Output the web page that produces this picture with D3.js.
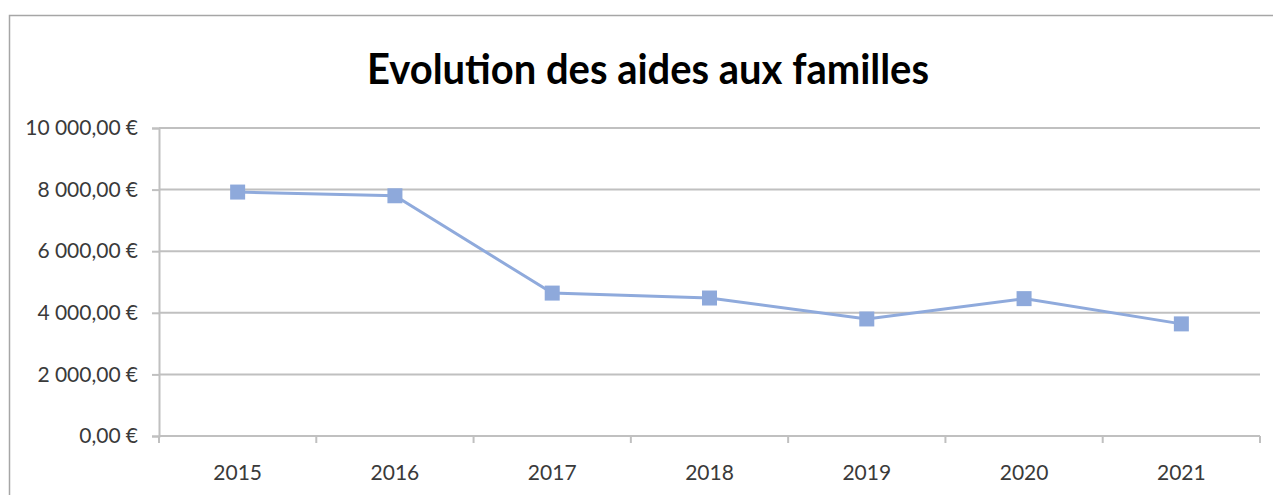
<!DOCTYPE html>
<html>
<head>
<meta charset="utf-8">
<script src="https://cdn.jsdelivr.net/npm/d3@7"></script>
<style>
  body { margin: 0; background: #fff; }
  text { font-family: Lato, "Open Sans", sans-serif; fill: #404040; }
</style>
</head>
<body>
<svg id="chart" width="1273" height="495"></svg>
<script>
// données
var annees = ["2015", "2016", "2017", "2018", "2019", "2020", "2021"];
var aides = [7920, 7800, 4640, 4480, 3800, 4460, 3640];
var graduations = [0, 2000, 4000, 6000, 8000, 10000];

var svg = d3.select("#chart"),
    width = +svg.attr("width"),
    height = +svg.attr("height");

var margin = {top: 128, right: 13, bottom: 59, left: 159};

// format monétaire français
var fr = d3.formatLocale({
  decimal: ",",
  thousands: "\u202F",
  grouping: [3],
  currency: ["", "\u202F€"]
});
var fmt = fr.format("$,.2f");

var x = d3.scaleBand()
  .domain(annees)
  .range([margin.left, width - margin.right])
  .padding(0);

var y = d3.scaleLinear()
  .domain([0, 10000])
  .range([height - margin.bottom, margin.top]);

// cadre du graphique
svg.append("path")
  .attr("d", "M9.5," + height + "V15.5H" + width)
  .attr("fill", "none")
  .attr("stroke", "#a6a6a6")
  .attr("stroke-width", 1.5);

// titre
svg.append("text")
  .attr("x", 648)
  .attr("y", 84)
  .attr("text-anchor", "middle")
  .style("font-weight", "bold")
  .style("font-size", "42px")
  .style("fill", "#000")
  .attr("textLength", 562)
  .attr("lengthAdjust", "spacingAndGlyphs")
  .text("Evolution des aides aux familles");

// axe y + grille
var yAxis = svg.append("g")
  .attr("transform", "translate(" + margin.left + ",0)")
  .call(d3.axisLeft(y).tickValues(graduations).tickFormat(fmt).tickSize(7).tickPadding(14));

yAxis.select(".domain").attr("stroke", "#c0c0c0").attr("stroke-width", 2);
yAxis.selectAll(".tick line").attr("stroke", "#c0c0c0").attr("stroke-width", 2);
yAxis.selectAll(".tick text")
  .style("font-size", "21px")
  .style("fill", "#3a3a3a")
  .style("font-family", "Lato, sans-serif");

svg.append("g")
  .selectAll("line")
  .data(graduations.filter(d => d > 0))
  .enter()
  .append("line")
    .attr("x1", margin.left)
    .attr("x2", width - margin.right)
    .attr("y1", d => y(d))
    .attr("y2", d => y(d))
    .attr("stroke", "#c0c0c0")
    .attr("stroke-width", 2);

// axe x : graduations entre les catégories
var xAxis = svg.append("g")
  .attr("transform", "translate(0," + y(0) + ")");

xAxis.append("line")
  .attr("x1", margin.left)
  .attr("x2", width - margin.right)
  .attr("stroke", "#c0c0c0")
  .attr("stroke-width", 2);

var bornes = annees.map(d => x(d)).concat([x(annees[annees.length - 1]) + x.bandwidth()]);
xAxis.selectAll(".tk")
  .data(bornes)
  .enter()
  .append("line")
    .attr("x1", d => d)
    .attr("x2", d => d)
    .attr("y1", 0)
    .attr("y2", 7)
    .attr("stroke", "#c0c0c0")
    .attr("stroke-width", 2);

xAxis.selectAll(".lbl")
  .data(annees)
  .enter()
  .append("text")
    .attr("x", d => x(d) + x.bandwidth() / 2)
    .attr("y", 44)
    .attr("text-anchor", "middle")
    .style("font-size", "21px")
    .style("fill", "#3a3a3a")
    .text(d => d);

// courbe
var ligne = d3.line()
  .x((d, i) => x(annees[i]) + x.bandwidth() / 2)
  .y(d => y(d));

svg.append("path")
  .datum(aides)
  .attr("fill", "none")
  .attr("stroke", "#8faadc")
  .attr("stroke-width", 3)
  .attr("d", ligne);

var taille = 15;
svg.append("g")
  .selectAll("rect")
  .data(aides)
  .enter()
  .append("rect")
    .attr("x", (d, i) => x(annees[i]) + x.bandwidth() / 2 - taille / 2)
    .attr("y", d => y(d) - taille / 2)
    .attr("width", taille)
    .attr("height", taille)
    .attr("fill", "#8ea9db")
  .append("title")
    .text((d, i) => annees[i] + " : " + fmt(d));
</script>
</body>
</html>
